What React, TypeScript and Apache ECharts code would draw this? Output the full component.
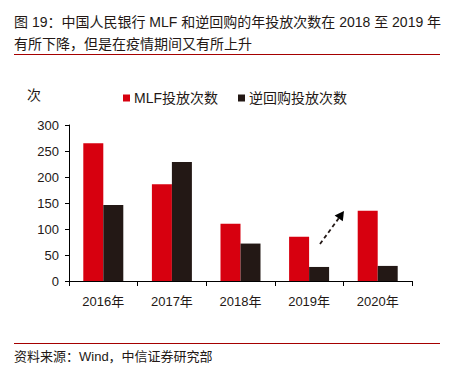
import React, { useEffect, useRef } from "react";
import * as echarts from "echarts";

const categories = ["2016年", "2017年", "2018年", "2019年", "2020年"];
const mlfCounts = [265, 186, 110, 85, 135];
const repoCounts = [146, 229, 72, 27, 29];
const yTicks = [0, 50, 100, 150, 200, 250, 300];

const FONT = "'Liberation Sans', Arial, 'Noto Sans CJK SC', sans-serif";

export default function App() {
  const ref = useRef<HTMLDivElement>(null);
  useEffect(() => {
    if (!ref.current) return;
    const chart = echarts.init(ref.current, null, { renderer: "svg" });
    chart.setOption({
      animation: false,
      backgroundColor: "#ffffff",
      textStyle: { fontFamily: FONT },
      grid: { left: 69, right: 46, top: 125, bottom: 94, containLabel: false },
      legend: {
        left: 118,
        top: 86,
        itemWidth: 7,
        itemHeight: 7,
        itemGap: 20,
        icon: "rect",
        textStyle: { fontSize: 14, color: "#231815", fontFamily: FONT, padding: [0, 0, 0, -1] },
        data: ["MLF投放次数", "逆回购投放次数"],
      },
      xAxis: {
        type: "category",
        data: categories,
        axisLine: { lineStyle: { color: "#000", width: 1 } },
        axisTick: { show: true, alignWithLabel: false, length: 5, lineStyle: { color: "#000" } },
        axisLabel: { fontSize: 13, color: "#231815", margin: 14, fontFamily: FONT },
      },
      yAxis: {
        type: "value",
        min: yTicks[0],
        max: yTicks[yTicks.length - 1],
        interval: 50,
        splitLine: { show: false },
        axisLine: { show: true, lineStyle: { color: "#000", width: 1 } },
        axisTick: { show: true, length: 4, lineStyle: { color: "#000" } },
        axisLabel: { fontSize: 13, color: "#231815", margin: 10, fontFamily: FONT },
      },
      series: [
        {
          name: "MLF投放次数",
          type: "bar",
          data: mlfCounts,
          barWidth: 20,
          barGap: "0%",
          itemStyle: { color: "#d7000f" },
        },
        {
          name: "逆回购投放次数",
          type: "bar",
          data: repoCounts,
          barWidth: 20,
          barGap: "0%",
          itemStyle: { color: "#231815" },
        },
      ],
      graphic: [
        {
          type: "text",
          left: 14,
          top: 11,
          style: {
            text: "图 19：中国人民银行 MLF 和逆回购的年投放次数在 2018 至 2019 年\n有所下降，但是在疫情期间又有所上升",
            fontSize: 14,
            lineHeight: 22,
            fill: "#231815",
            fontFamily: FONT,
          },
        },
        {
          type: "line",
          shape: { x1: 14, y1: 54.5, x2: 440, y2: 54.5 },
          style: { stroke: "#a50000", lineWidth: 1 },
        },
        {
          type: "text",
          left: 27,
          top: 88,
          style: { text: "次", fontSize: 14, fill: "#231815", fontFamily: FONT },
        },
        {
          type: "line",
          shape: { x1: 320, y1: 244, x2: 338.7, y2: 218.3 },
          style: { stroke: "#231815", lineWidth: 1.8, lineDash: [4, 3] },
        },
        {
          type: "polygon",
          shape: { points: [[344, 211], [342.8, 221.2], [334.6, 215.4]] },
          style: { fill: "#000" },
        },
        {
          type: "line",
          shape: { x1: 14, y1: 343.5, x2: 440, y2: 343.5 },
          style: { stroke: "#a50000", lineWidth: 1 },
        },
        {
          type: "text",
          left: 14,
          top: 350,
          style: { text: "资料来源：Wind，中信证券研究部", fontSize: 13, fill: "#231815", fontFamily: FONT },
        },
      ],
    });
    return () => chart.dispose();
  }, []);
  return <div ref={ref} style={{ width: 458, height: 375, position: "absolute", left: 0, top: 0 }} />;
}
